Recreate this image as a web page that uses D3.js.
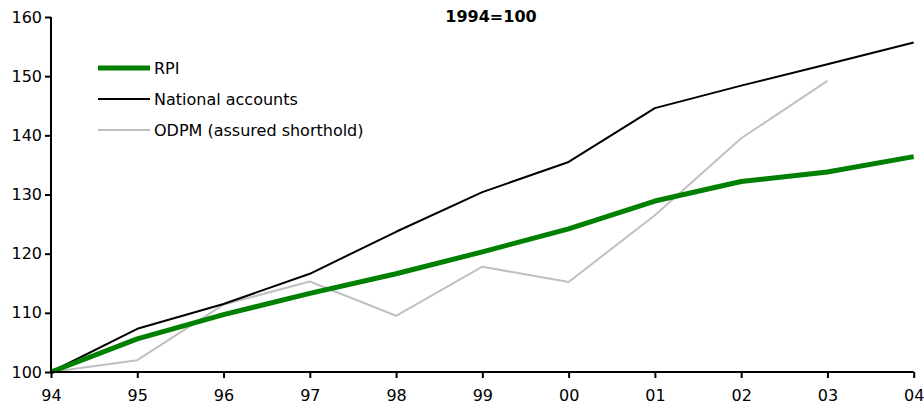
<!DOCTYPE html>
<html>
<head>
<meta charset="utf-8">
<script src="https://cdn.jsdelivr.net/npm/d3@7"></script>
<style>
  body { margin: 0; background: #fff; }
  svg text { font-family: "DejaVu Sans", Verdana, sans-serif; fill: #000; }
</style>
</head>
<body>
<div class="chart"></div>
<script>
// DATA ------------------------------
const years = ["94", "95", "96", "97", "98", "99", "00", "01", "02", "03", "04"];
const rpi = [100, 105.6, 109.7, 113.3, 116.6, 120.3, 124.2, 128.9, 132.2, 133.8, 136.4];
const nationalAccounts = [100, 107.3, 111.5, 116.6, 123.7, 130.4, 135.5, 144.6, 148.4, 152.0, 155.7];
const odpm = [100, 102.0, 111.4, 115.3, 109.5, 117.8, 115.2, 126.5, 139.5, 149.2];
const yTicks = [100, 110, 120, 130, 140, 150, 160];

const series = [
    {name: "RPI", values: rpi, color: "#008000", width: 5},
    {name: "National accounts", values: nationalAccounts, color: "#000000", width: 2},
    {name: "ODPM (assured shorthold)", values: odpm, color: "#c0c0c0", width: 2}
];

// CHART ------------------------------
const margin = ({top: 17, right: 10, bottom: 35, left: 51});
const width = 924 - margin.left - margin.right,
    height = 407 - margin.top - margin.bottom;

const svg = d3.select(".chart")
    .append("svg")
    .attr("width", width + margin.left + margin.right)
    .attr("height", height + margin.top + margin.bottom)
    .append("g")
    .attr("transform", "translate(" + margin.left + "," + margin.top + ")");

const xScale = d3.scalePoint()
    .domain(years)
    .range([0, width - 0.3]);

const yScale = d3.scaleLinear()
    .domain([100, 160])
    .range([height, 0]);

// lines
const line = d3.line()
    .x((d, i) => xScale(years[i]))
    .y(d => yScale(d));

series.slice().reverse().forEach(s => {
    svg.append("path")
        .datum(s.values)
        .attr("fill", "none")
        .attr("stroke", s.color)
        .attr("stroke-width", s.width)
        .attr("stroke-linejoin", "round")
        .attr("d", line);
});

// axes
const xAxis = d3.axisBottom(xScale).tickSize(6).tickPadding(12);
const yAxis = d3.axisLeft(yScale).tickValues(yTicks).tickSize(6).tickPadding(3);

const xAxisGroup = svg.append("g")
    .attr("class", "axis x-axis")
    .attr("transform", "translate(0," + height + ")")
    .call(xAxis);

const yAxisGroup = svg.append("g")
    .attr("class", "axis y-axis")
    .call(yAxis);

svg.selectAll(".axis path").attr("stroke", "#000").attr("stroke-width", 2);
svg.selectAll(".axis line").attr("stroke", "#000").attr("stroke-width", 2);
svg.selectAll(".axis text").style("font-size", "16px").attr("fill", "#000");
xAxisGroup.select(".domain").attr("d", "M0,0H" + (width - 0.3));
yAxisGroup.select(".domain").attr("d", "M0," + height + "V0");

// title
svg.append("text")
    .attr("x", 440)
    .attr("y", 5)
    .attr("text-anchor", "middle")
    .style("font-size", "16px")
    .style("font-weight", "bold")
    .text("1994=100");

// legend
const legend = svg.append("g")
    .attr("transform", "translate(47,51)");

series.forEach((s, i) => {
    const g = legend.append("g").attr("transform", "translate(0," + (i * 31) + ")");
    g.append("line")
        .attr("x1", 0).attr("x2", 52)
        .attr("y1", 0).attr("y2", 0)
        .attr("stroke", s.color)
        .attr("stroke-width", s.width === 5 ? 5 : 2);
    g.append("text")
        .attr("x", 56)
        .attr("y", 6)
        .style("font-size", "16px")
        .text(s.name);
});
</script>
</body>
</html>
